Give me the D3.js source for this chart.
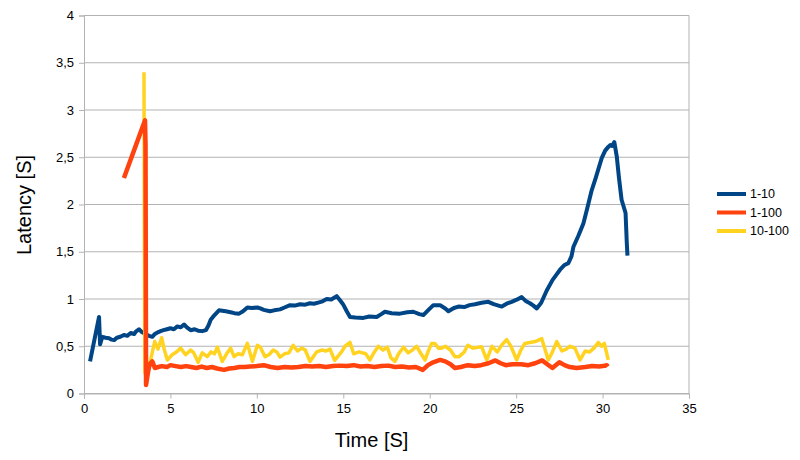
<!DOCTYPE html>
<html>
<head>
<meta charset="utf-8">
<script src="https://cdn.jsdelivr.net/npm/d3@7"></script>
<style>
  body { margin: 0; background: #fff; }
  text { font-family: 'Liberation Sans', Arial, sans-serif; fill: #000; }
</style>
</head>
<body>
<div id="chart"></div>
<script>
// Series names and colours, in legend order.
var seriesNames = ['1-10', '1-100', '10-100'];
var seriesColors = ['#004586', '#ff420e', '#ffd320'];

var xTicks = [0, 5, 10, 15, 20, 25, 30, 35];
var yTicks = [0, 0.5, 1, 1.5, 2, 2.5, 3, 3.5, 4];

// 1-10: time [s] and latency [s]
var timeA = [0.35, 0.87, 0.93, 1.06, 1.25, 1.45, 1.6, 1.74, 1.9, 2.1, 2.31, 2.5, 2.7, 2.9, 3.0, 3.18, 3.35, 3.55, 3.76, 3.95,
  4.1, 4.3, 4.43, 4.6, 4.8, 5.0, 5.2, 5.4, 5.6, 5.79, 5.95, 6.17, 6.4, 6.6, 6.84, 7.05, 7.2, 7.33, 7.55, 7.81,
  8.0, 8.2, 8.48, 8.7, 8.97, 9.2, 9.45, 9.7, 10.03, 10.2, 10.4, 10.76, 11.0, 11.34, 11.6, 11.92, 12.2, 12.5, 12.8, 13.07,
  13.3, 13.6, 13.8, 14.04, 14.3, 14.62, 14.8, 15.0, 15.2, 15.39, 15.7, 16.16, 16.5, 16.93, 17.2, 17.41, 17.8, 18.28, 18.7, 19.05,
  19.4, 19.63, 19.9, 20.21, 20.6, 20.9, 21.08, 21.4, 21.66, 22.0, 22.3, 22.62, 23.0, 23.39, 23.7, 24.17, 24.45, 24.74, 25.0, 25.32,
  25.55, 25.8, 26.0, 26.19, 26.45, 26.77, 27.1, 27.3, 27.54, 27.8, 28.02, 28.2, 28.31, 28.6, 28.89, 29.1, 29.37, 29.6, 29.95, 30.15,
  30.33, 30.45, 30.55, 30.68, 30.82, 30.95, 31.1, 31.33, 31.4, 31.44];
var latencyA = [0.34, 0.81, 0.52, 0.60, 0.59, 0.585, 0.57, 0.565, 0.59, 0.60, 0.62, 0.61, 0.64, 0.63, 0.655, 0.68, 0.65, 0.63, 0.61, 0.60,
  0.63, 0.65, 0.66, 0.67, 0.68, 0.69, 0.68, 0.71, 0.70, 0.73, 0.70, 0.67, 0.68, 0.665, 0.66, 0.67, 0.72, 0.78, 0.83, 0.88,
  0.875, 0.87, 0.86, 0.85, 0.845, 0.87, 0.91, 0.905, 0.91, 0.90, 0.885, 0.87, 0.88, 0.89, 0.91, 0.935, 0.93, 0.945, 0.94, 0.955,
  0.95, 0.965, 0.975, 1.00, 0.995, 1.03, 0.99, 0.94, 0.87, 0.81, 0.805, 0.80, 0.815, 0.81, 0.84, 0.865, 0.85, 0.845, 0.86, 0.865,
  0.84, 0.83, 0.88, 0.935, 0.935, 0.90, 0.87, 0.905, 0.92, 0.915, 0.935, 0.945, 0.96, 0.97, 0.945, 0.92, 0.95, 0.97, 0.99, 1.02,
  0.98, 0.955, 0.93, 0.90, 0.96, 1.09, 1.20, 1.25, 1.31, 1.36, 1.38, 1.45, 1.55, 1.67, 1.80, 1.95, 2.15, 2.28, 2.49, 2.57,
  2.61, 2.63, 2.62, 2.66, 2.51, 2.28, 2.05, 1.91, 1.60, 1.46];

// 1-100
var timeB = [2.31, 3.53, 3.56, 3.59, 3.70, 3.76, 3.85, 3.95, 4.1, 4.3, 4.5, 4.8, 5.0, 5.3, 5.6, 5.9, 6.2, 6.5, 6.8, 7.1,
  7.4, 7.7, 8.1, 8.4, 8.7, 9.0, 9.3, 9.6, 10.0, 10.4, 10.8, 11.2, 11.6, 12.0, 12.4, 12.8, 13.2, 13.6, 14.0, 14.4,
  14.8, 15.2, 15.6, 16.0, 16.4, 16.8, 17.2, 17.6, 18.0, 18.4, 18.8, 19.2, 19.6, 19.9, 20.2, 20.6, 20.9, 21.2, 21.46, 21.8,
  22.2, 22.6, 22.97, 23.4, 23.8, 24.1, 24.4, 24.8, 25.3, 25.7, 26.1, 26.5, 26.8, 27.1, 27.5, 27.8, 28.1, 28.5, 29.0, 29.4,
  29.8, 30.0, 30.24, 30.3];
var latencyB = [2.28, 2.89, 2.63, 0.09, 0.22, 0.28, 0.32, 0.34, 0.27, 0.28, 0.29, 0.28, 0.30, 0.29, 0.28, 0.29, 0.28, 0.27, 0.285, 0.27,
  0.28, 0.265, 0.25, 0.265, 0.27, 0.28, 0.28, 0.285, 0.29, 0.30, 0.28, 0.27, 0.28, 0.275, 0.28, 0.29, 0.285, 0.29, 0.28, 0.29,
  0.295, 0.29, 0.30, 0.285, 0.29, 0.28, 0.29, 0.295, 0.28, 0.285, 0.275, 0.28, 0.25, 0.30, 0.33, 0.355, 0.34, 0.31, 0.27, 0.28,
  0.30, 0.29, 0.30, 0.32, 0.35, 0.32, 0.30, 0.31, 0.31, 0.30, 0.32, 0.35, 0.31, 0.27, 0.33, 0.30, 0.28, 0.27, 0.28, 0.29,
  0.285, 0.29, 0.30, 0.285];

// 10-100
var timeC = [3.47, 3.52, 3.68, 3.86, 4.09, 4.28, 4.49, 4.65, 4.82, 5.1, 5.35, 5.59, 5.88, 6.17, 6.35, 6.6, 6.84, 7.13, 7.35, 7.55,
  7.71, 8.0, 8.25, 8.48, 8.68, 8.9, 9.16, 9.45, 9.74, 10.03, 10.2, 10.47, 10.7, 10.95, 11.15, 11.34, 11.6, 11.85, 12.1, 12.35,
  12.6, 12.8, 13.07, 13.46, 13.75, 14.0, 14.23, 14.5, 14.9, 15.1, 15.39, 15.6, 15.9, 16.3, 16.54, 16.8, 17.03, 17.3, 17.55, 17.75,
  17.99, 18.2, 18.48, 18.75, 19.0, 19.24, 19.5, 19.73, 19.9, 20.11, 20.3, 20.5, 20.69, 20.9, 21.2, 21.46, 21.7, 22.0, 22.2, 22.5,
  23.0, 23.3, 23.6, 23.9, 24.2, 24.45, 24.7, 25.03, 25.25, 25.5, 25.8, 26.1, 26.48, 26.86, 27.1, 27.35, 27.65, 27.9, 28.1, 28.4,
  28.7, 29.0, 29.25, 29.5, 29.75, 29.95, 30.1, 30.33];
var latencyC = [3.40, 0.22, 0.25, 0.36, 0.55, 0.47, 0.59, 0.46, 0.355, 0.41, 0.44, 0.48, 0.41, 0.46, 0.43, 0.33, 0.43, 0.39, 0.44, 0.42,
  0.49, 0.34, 0.42, 0.48, 0.39, 0.42, 0.41, 0.53, 0.34, 0.51, 0.49, 0.39, 0.41, 0.46, 0.44, 0.385, 0.42, 0.43, 0.51, 0.45,
  0.48, 0.46, 0.34, 0.44, 0.46, 0.45, 0.47, 0.35, 0.44, 0.50, 0.54, 0.42, 0.44, 0.42, 0.355, 0.44, 0.50, 0.46, 0.49, 0.38,
  0.34, 0.42, 0.49, 0.43, 0.46, 0.50, 0.42, 0.355, 0.44, 0.53, 0.53, 0.48, 0.48, 0.50, 0.46, 0.39, 0.39, 0.44, 0.51, 0.48,
  0.495, 0.355, 0.50, 0.44, 0.52, 0.57, 0.50, 0.355, 0.45, 0.53, 0.54, 0.55, 0.58, 0.355, 0.44, 0.55, 0.45, 0.47, 0.50, 0.48,
  0.355, 0.45, 0.44, 0.48, 0.54, 0.50, 0.53, 0.355];

var width = 800;
var height = 460;
var margin = {left: 84, right: 111, top: 15.5, bottom: 66.5};
var gridColor = '#b3b3b3';

var svg = d3.select('#chart').append('svg')
    .attr('width', width)
    .attr('height', height);

var x = d3.scaleLinear().domain([0, 35]).range([margin.left, width - margin.right]);
var y = d3.scaleLinear().domain([0, 4]).range([height - margin.bottom, margin.top]);

// horizontal grid lines
svg.append('g').selectAll('line')
    .data(yTicks)
    .enter().append('line')
    .attr('x1', x(0)).attr('x2', x(35))
    .attr('y1', function(d) { return y(d); })
    .attr('y2', function(d) { return y(d); })
    .attr('stroke', gridColor)
    .attr('stroke-width', 1);

// right border of the plot
svg.append('line')
    .attr('x1', x(35)).attr('x2', x(35))
    .attr('y1', y(0)).attr('y2', y(4))
    .attr('stroke', gridColor);

var fmt = function(d) { return String(d).replace('.', ','); };

var xAxis = svg.append('g')
    .attr('transform', 'translate(0,' + y(0) + ')')
    .call(d3.axisBottom(x).tickValues(xTicks).tickFormat(fmt).tickSize(5).tickPadding(5));
var yAxis = svg.append('g')
    .attr('transform', 'translate(' + x(0) + ',0)')
    .call(d3.axisLeft(y).tickValues(yTicks).tickFormat(fmt).tickSize(5).tickPadding(5));

[xAxis, yAxis].forEach(function(ax) {
  ax.selectAll('path, line').attr('stroke', gridColor);
  ax.selectAll('text')
    .style('font-family', "'Liberation Sans', Arial, sans-serif")
    .style('font-size', '13px')
    .attr('fill', '#000');
});

// axis titles
svg.append('text')
    .attr('x', x(17.5) - 15)
    .attr('y', 447)
    .attr('text-anchor', 'middle')
    .style('font-size', '20px')
    .text('Time [S]');
svg.append('text')
    .attr('transform', 'translate(31,205) rotate(-90)')
    .attr('text-anchor', 'middle')
    .style('font-size', '20px')
    .text('Latency [S]');

var line = d3.line()
    .x(function(d) { return x(d[0]); })
    .y(function(d) { return y(d[1]); });

var series = [
  d3.zip(timeA, latencyA),
  d3.zip(timeB, latencyB),
  d3.zip(timeC, latencyC)
];
var widths = [4, 4.5, 3.5];

// draw order: 1-10, 10-100, then 1-100 on top
[0, 2, 1].forEach(function(i) {
  svg.append('path')
      .datum(series[i])
      .attr('d', line)
      .attr('fill', 'none')
      .attr('stroke', seriesColors[i])
      .attr('stroke-width', widths[i])
      .attr('stroke-linejoin', 'round');
});

// legend
var legend = svg.append('g').selectAll('g')
    .data(seriesNames)
    .enter().append('g')
    .attr('transform', function(d, i) { return 'translate(717,' + (194 + i * 18.5) + ')'; });
legend.append('line')
    .attr('x1', 0).attr('x2', 29)
    .attr('stroke', function(d, i) { return seriesColors[i]; })
    .attr('stroke-width', 4);
legend.append('text')
    .attr('x', 33)
    .attr('dy', '0.35em')
    .style('font-size', '12.5px')
    .text(function(d) { return d; });
</script>
</body>
</html>
